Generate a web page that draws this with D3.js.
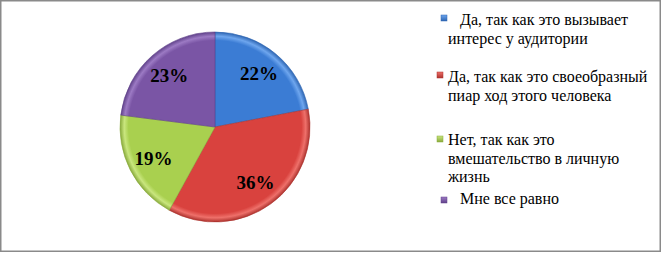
<!DOCTYPE html>
<html><head><meta charset="utf-8">
<script src="https://cdn.jsdelivr.net/npm/d3@7"></script>
<style>body{margin:0;background:#fff}svg{display:block}</style>
</head><body>
<script>
const categories = ["   Да, так как это вызывает интерес у аудитории",
  "Да, так как это своеобразный пиар ход этого человека",
  "Нет, так как это вмешательство в личную жизнь",
  "   Мне все равно"];
const legendLines = [["   Да, так как это вызывает","интерес у аудитории"],
  ["Да, так как это своеобразный","пиар ход этого человека"],
  ["Нет, так как это","вмешательство в личную","жизнь"],
  ["   Мне все равно"]];
const values = [22, 36, 19, 23];
const labels = ["22%", "36%", "19%", "23%"];
const colors = ["#3b7cd4", "#d9423e", "#a9d04f", "#7a55a5"];
const lightColors = ["#6ea6ee", "#ee706a", "#c9e67e", "#9c7ac4"];
const darkColors = ["#2d65b2", "#ad322e", "#88aa3b", "#60418a"];
const FONT = '"Liberation Serif", "Times New Roman", serif';

const W = 662, H = 253;
const svg = d3.select("body").append("svg").attr("width", W).attr("height", H);
svg.append("rect").attr("x", 0.75).attr("y", 0.75).attr("width", W - 2.5).attr("height", H - 2.5)
  .attr("fill", "#fff").attr("stroke", "#8a8a8a").attr("stroke-width", 1.5);

const defs = svg.append("defs");
const cx = 215, cy = 127, R = 95;
colors.forEach((c, i) => {
  const g = defs.append("radialGradient").attr("id", "rg" + i)
    .attr("gradientUnits", "userSpaceOnUse").attr("cx", 0).attr("cy", 0).attr("r", R);
  g.append("stop").attr("offset", "0%").attr("stop-color", c);
  g.append("stop").attr("offset", "91%").attr("stop-color", c);
  g.append("stop").attr("offset", "95.5%").attr("stop-color", lightColors[i]);
  g.append("stop").attr("offset", "100%").attr("stop-color", darkColors[i]);
  const m = defs.append("linearGradient").attr("id", "mg" + i).attr("x1", 0).attr("y1", 0).attr("x2", 0).attr("y2", 1);
  m.append("stop").attr("offset", "0%").attr("stop-color", lightColors[i]);
  m.append("stop").attr("offset", "100%").attr("stop-color", darkColors[i]);
});

const pie = d3.pie().sort(null).value(d => d);
const arcs = pie(values);
const arc = d3.arc().innerRadius(0).outerRadius(R);
const labelArc = d3.arc().innerRadius(69).outerRadius(69);
const pg = svg.append("g").attr("transform", `translate(${cx},${cy})`);
pg.selectAll("path").data(arcs).join("path")
  .attr("d", arc)
  .attr("fill", (d, i) => `url(#rg${i})`)
  .attr("stroke", (d, i) => darkColors[i]).attr("stroke-width", 0.6).attr("stroke-linejoin", "round");
pg.selectAll("text").data(arcs).join("text")
  .attr("transform", d => `translate(${labelArc.centroid(d)})`)
  .attr("text-anchor", "middle").attr("dy", "0.35em")
  .style("font-family", FONT)
  .attr("font-weight", "bold").attr("font-size", 19).attr("fill", "#000")
  .text((d, i) => labels[i]);

// legend
const legendY = [[25, 43.5], [82, 100.5], [145, 163.5, 182], [204]];
const markerPos = [[441, 15], [437, 72], [437, 136], [441, 197]];
const leg = svg.append("g");
legendLines.forEach((lines, i) => {
  leg.append("rect").attr("x", markerPos[i][0]).attr("y", markerPos[i][1]).attr("width", 6).attr("height", 6)
    .attr("fill", `url(#mg${i})`).attr("stroke", darkColors[i]).attr("stroke-width", 0.5);
  lines.forEach((t, j) => {
    leg.append("text").attr("x", 448).attr("y", legendY[i][j])
      .attr("font-size", 16).attr("fill", "#000")
      .style("font-family", FONT)
      .style("white-space", "pre").text(t);
  });
});
</script>
</body></html>
